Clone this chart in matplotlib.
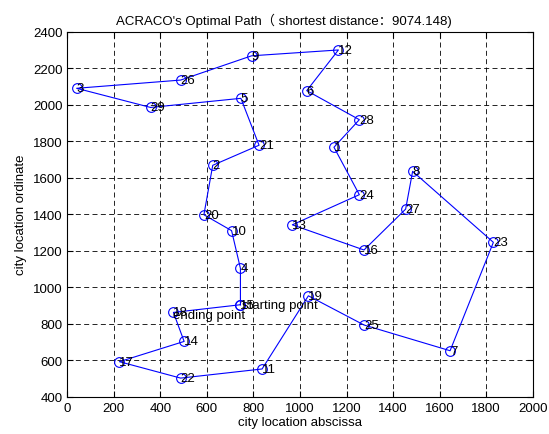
import matplotlib
matplotlib.use("Agg")
import matplotlib.pyplot as plt

plt.rcParams['font.family'] = ['Liberation Sans', 'Noto Sans CJK SC', 'DejaVu Sans']

# visiting order of the cities (closed tour, starts and ends at city 15)
order = [15, 4, 10, 20, 2, 21, 5, 29, 3, 26, 9, 12, 6, 28, 1, 24, 13, 16,
         27, 8, 23, 7, 25, 19, 11, 22, 17, 14, 18]

# city coordinates
city_x = {1: 1146, 2: 625, 3: 40, 4: 744, 5: 746, 6: 1029, 7: 1645, 8: 1484,
          9: 792, 10: 706, 11: 837, 12: 1165, 13: 967, 14: 502, 15: 744,
          16: 1275, 17: 224, 18: 456, 19: 1036, 20: 587, 21: 824, 22: 487,
          23: 1831, 24: 1255, 25: 1275, 26: 487, 27: 1454, 28: 1255, 29: 358}
city_y = {1: 1767, 2: 1668, 3: 2090, 4: 1103, 5: 2035, 6: 2077, 7: 652, 8: 1635,
          9: 2268, 10: 1310, 11: 552, 12: 2300, 13: 1342, 14: 703, 15: 904,
          16: 1204, 17: 592, 18: 862, 19: 953, 20: 1397, 21: 1778, 22: 502,
          23: 1246, 24: 1507, 25: 793, 26: 2135, 27: 1428, 28: 1918, 29: 1985}

best_len = 9074.148

xs = [city_x[c] for c in order] + [city_x[order[0]]]
ys = [city_y[c] for c in order] + [city_y[order[0]]]

fig = plt.figure(figsize=(5.49, 4.35), dpi=100)
ax = fig.add_axes([0.1226, 0.0857, 0.8477, 0.8391])

ax.plot(xs, ys, '-o', color='blue', linewidth=0.8, markersize=7,
        markerfacecolor='none', markeredgewidth=0.8)

for c in order:
    ax.text(city_x[c], city_y[c], str(c), fontsize=9.5, ha='left', va='center')

ax.text(city_x[order[0]] + 5, city_y[order[0]], 'starting point', fontsize=9.5,
        ha='left', va='center')
ax.text(city_x[order[-1]], city_y[order[-1]] - 15, 'ending point', fontsize=9.5,
        ha='left', va='center')

ax.set_xlim(0, 2000)
ax.set_ylim(400, 2400)
ax.set_xticks(range(0, 2001, 200))
ax.set_yticks(range(400, 2401, 200))
ax.tick_params(direction='in', top=True, right=True, labelsize=9.5, length=4)
ax.grid(True, color='black', linestyle=(0, (6, 4)), linewidth=0.6)
for s in ax.spines.values():
    s.set_linewidth(0.8)

ax.set_xlabel('city location abscissa', fontsize=9.5, labelpad=2)
ax.set_ylabel('city location ordinate', fontsize=9.5, labelpad=4)
ax.text(0.466, 1.012, "ACRACO's Optimal Path（ shortest distance：%.3f)" % best_len,
        transform=ax.transAxes, fontsize=9.5, ha='center', va='bottom')

fig.savefig('out.png', dpi=100)
